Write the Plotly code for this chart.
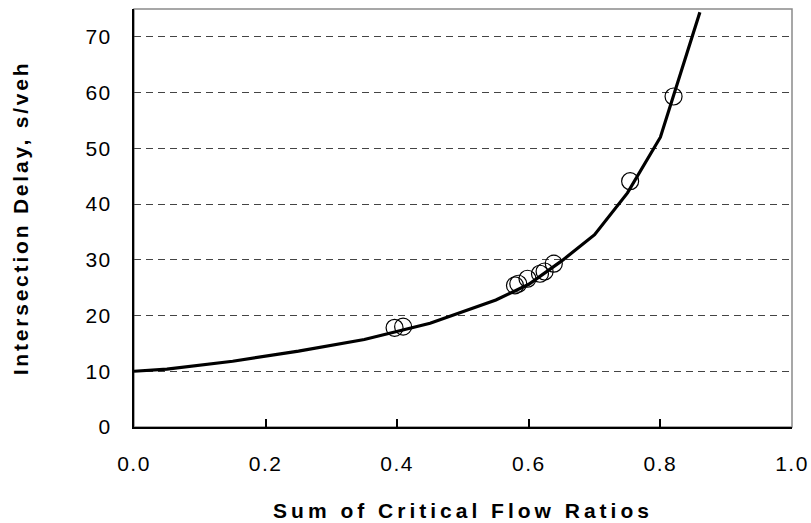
import plotly.graph_objects as go

# Model curve (sum of critical flow ratios vs intersection delay)
curve_x = [0.0, 0.05, 0.15, 0.25, 0.35, 0.45, 0.55, 0.60, 0.65, 0.70, 0.75, 0.80, 0.86]
curve_y = [10.0, 10.4, 11.8, 13.6, 15.7, 18.6, 22.8, 25.6, 29.8, 34.5, 42.0, 52.0, 74.4]

# Observed data points
obs_x = [0.396, 0.409, 0.579, 0.584, 0.598, 0.617, 0.624, 0.638, 0.754, 0.820]
obs_y = [17.8, 18.0, 25.4, 25.7, 26.6, 27.5, 27.9, 29.3, 44.1, 59.3]

x_ticks = [0.0, 0.2, 0.4, 0.6, 0.8, 1.0]
y_ticks = [0, 10, 20, 30, 40, 50, 60, 70]

x_title = "Sum of Critical Flow Ratios"
y_title = "Intersection Delay, s/veh"

fig = go.Figure()
fig.add_trace(go.Scatter(
    x=obs_x, y=obs_y, mode="markers",
    marker=dict(symbol="circle-open", size=17, color="black", line=dict(width=1.2, color="black")),
    showlegend=False, hoverinfo="x+y",
))
fig.add_trace(go.Scatter(
    x=curve_x, y=curve_y, mode="lines",
    line=dict(color="black", width=3.2),
    showlegend=False, hoverinfo="x+y",
))

tick_font = dict(family="Liberation Sans, Arial, sans-serif", size=21, color="black")
title_font = dict(family="Liberation Sans, Arial, sans-serif", size=21, color="black", weight="bold")

fig.update_layout(
    width=811, height=523,
    margin=dict(l=134, r=19, t=9, b=96, autoexpand=False),
    paper_bgcolor="white", plot_bgcolor="white",
    xaxis=dict(
        range=[0, 1], tickvals=x_ticks, tickformat=".1f",
        ticks="inside", ticklen=8, tickwidth=1.5, tickcolor="black",
        showline=True, linecolor="black", linewidth=2,
        showgrid=False, zeroline=False,
        tickfont=tick_font, ticklabelstandoff=17,
        title=dict(text=x_title, font=title_font, standoff=29),
        automargin=False,
    ),
    yaxis=dict(
        range=[0, 75], tickvals=y_ticks,
        ticks="", showline=True, linecolor="black", linewidth=2,
        showgrid=True, gridcolor="#444444", gridwidth=1, griddash="7px,5px",
        zeroline=False,
        tickfont=tick_font, ticklabelstandoff=16,
        title=dict(text=y_title, font=title_font, standoff=54),
        automargin=False,
    ),
    shapes=[dict(type="rect", xref="paper", yref="paper", x0=0, y0=0, x1=1, y1=1,
                 line=dict(color="#8a8a8a", width=1.5), layer="below")],
)

post = """
document.body.style.margin='0';
document.body.style.padding='0';
var gd = document.getElementById('{plot_id}');
function spacing(){
  gd.querySelectorAll('.xtitle').forEach(function(e){e.style.letterSpacing='4.0px';});
  gd.querySelectorAll('.ytitle').forEach(function(e){e.style.letterSpacing='2.8px';});
  gd.querySelectorAll('.xtick text, .ytick text').forEach(function(e){e.style.letterSpacing='1.5px';});
}
spacing();
gd.on('plotly_afterplot', spacing);
"""

fig.write_html("out.html", post_script=post, config={"displayModeBar": False})
